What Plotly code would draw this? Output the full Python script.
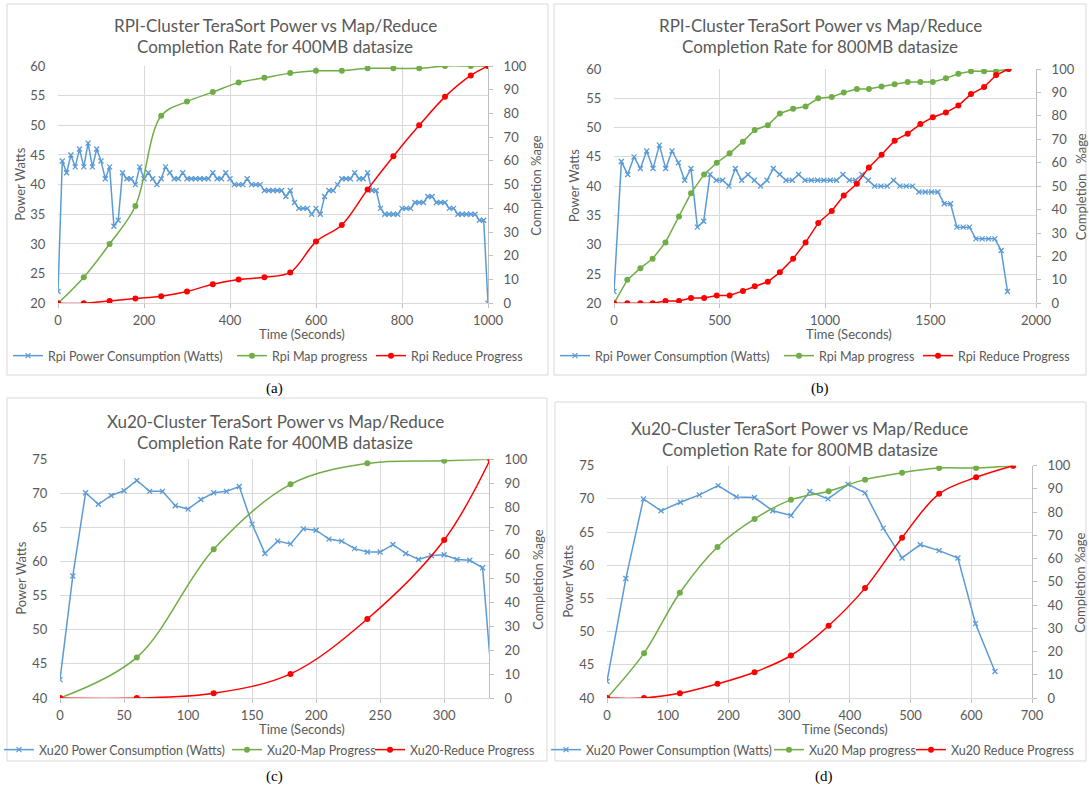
import plotly.graph_objects as go

# ---------------- data ----------------
# (a) RPI 400MB
a_power_t = [0, 10, 20, 30, 40, 50, 60, 70, 80, 90,
             100, 110, 120, 130, 140, 150, 160, 170, 180, 190,
             200, 210, 220, 230, 240, 250, 260, 270, 280, 290,
             300, 310, 320, 330, 340, 350, 360, 370, 380, 390,
             400, 410, 420, 430, 440, 450, 460, 470, 480, 490,
             500, 510, 520, 530, 540, 550, 560, 570, 580, 590,
             600, 610, 620, 630, 640, 650, 660, 670, 680, 690,
             700, 710, 720, 730, 740, 750, 760, 770, 780, 790,
             800, 810, 820, 830, 840, 850, 860, 870, 880, 890,
             900, 910, 920, 930, 940, 950, 960, 970, 980, 990,
             1000]
a_power = [22, 44, 42, 45, 43, 46, 43, 47, 43, 46,
           44, 41, 43, 33, 34, 42, 41, 41, 40, 43,
           41, 42, 41, 40, 41, 43, 42, 41, 41, 42,
           41, 41, 41, 41, 41, 41, 42, 41, 41, 42,
           41, 40, 40, 40, 41, 40, 40, 40, 39, 39,
           39, 39, 39, 38, 39, 37, 36, 36, 36, 35,
           36, 35, 38, 39, 39, 40, 41, 41, 41, 42,
           41, 41, 42, 39, 39, 36, 35, 35, 35, 35,
           36, 36, 36, 37, 37, 37, 38, 38, 37, 37,
           37, 36, 36, 35, 35, 35, 35, 35, 34, 34,
           20]
a_prog_t = [0, 60, 120, 180, 240, 300, 360, 420, 480, 540, 600, 660, 720, 780, 840, 900, 960, 1000]
a_map = [0, 11, 25, 41, 79, 85, 89, 93, 95, 97, 98, 98, 99, 99, 99, 100, 100, 100]
a_reduce = [0, 0, 1, 2, 3, 5, 8, 10, 11, 13, 26, 33, 48, 62, 75, 87, 96, 100]

# (b) RPI 800MB
b_power_t = [0, 35, 65, 95, 125, 155, 185, 215, 245, 275,
             305, 335, 365, 395, 425, 455, 485, 515, 545, 575,
             605, 635, 665, 695, 725, 755, 785, 815, 845, 875,
             905, 935, 965, 995, 1025, 1055, 1085, 1115, 1145, 1175,
             1205, 1235, 1265, 1295, 1325, 1355, 1385, 1415, 1445, 1475,
             1505, 1535, 1565, 1595, 1625, 1655, 1685, 1715, 1745, 1775,
             1805, 1835, 1865]
b_power = [22, 44.2, 42, 45, 43, 46, 43, 47, 43, 46,
           44, 41, 43, 33, 34, 42, 41, 41, 40, 43,
           41, 42, 41, 40, 41, 43, 42, 41, 41, 42,
           41, 41, 41, 41, 41, 41, 42, 41, 41, 42,
           41, 40, 40, 40, 41, 40, 40, 40, 39, 39,
           39, 39, 37, 37, 33, 33, 33, 31, 31, 31,
           31, 29, 22]
b_prog_t = [0, 63, 125, 183, 244, 308, 365, 427, 487, 548,
            611, 667, 729, 786, 849, 908, 968, 1032, 1089, 1151,
            1208, 1268, 1330, 1392, 1452, 1511, 1573, 1632, 1692, 1754,
            1811, 1870]
b_map = [0, 10, 15, 19, 26, 37, 47, 55, 60, 64,
         69, 74, 76, 81, 83, 84, 87.5, 88, 90, 91.5,
         91.5, 92.5, 93.5, 94.5, 94.5, 94.5, 96, 98, 99, 99,
         99, 100]
b_reduce = [0, 0, 0, 0, 1, 1, 2.3, 2.3, 3.3, 3.3,
            5.3, 7.3, 9.2, 13.2, 19, 26, 34.3, 39.4, 46, 51,
            58, 63.4, 69.4, 72.4, 76.5, 79.4, 81.4, 84.4, 89.3, 92.3,
            97.4, 100]

# (c) Xu20 400MB
c_power_t = [0, 10, 20, 30, 40, 50, 60, 70, 80, 90,
             100, 110, 120, 130, 140, 150, 160, 170, 180, 190,
             200, 210, 220, 230, 240, 250, 260, 270, 280, 290,
             300, 310, 320, 330, 340]
c_power = [42.7, 57.9, 70.1, 68.4, 69.7, 70.4, 71.9, 70.3, 70.3, 68.2,
           67.7, 69.1, 70.1, 70.3, 71.0, 65.5, 61.2, 63.0, 62.6, 64.8,
           64.6, 63.3, 63.0, 61.9, 61.4, 61.4, 62.5, 61.2, 60.3, 60.9,
           61.0, 60.3, 60.2, 59.1, 36]
c_prog_t = [0, 60, 120, 180, 240, 300, 336]
c_map = [0, 17, 62.3, 89.5, 98.3, 99.4, 100]
c_reduce = [0, 0, 2, 10.1, 33.1, 66.2, 100]

# (d) Xu20 800MB
d_power_t = [0, 31, 60, 89, 121, 152, 183, 213, 243, 273,
             303, 334, 364, 397, 425, 455, 486, 516, 547, 578,
             607, 639]
d_power = [42.5, 58, 70, 68.2, 69.5, 70.6, 72, 70.3, 70.2, 68.2,
           67.5, 71.1, 70, 72.2, 70.9, 65.6, 61.1, 63.1, 62.2, 61.1,
           51.2, 44]
d_prog_t = [0, 61, 120, 182, 243, 303, 365, 425, 486, 547, 608, 669]
d_map = [0, 19.3, 45.3, 65, 77.1, 85.3, 89, 94, 97, 99, 99, 100]
d_reduce = [0, 0, 2, 6.1, 11.1, 18.3, 31.1, 47.3, 69, 87.9, 95, 100]

titles = [
    ("RPI-Cluster TeraSort Power vs Map/Reduce", "Completion Rate for 400MB datasize"),
    ("RPI-Cluster TeraSort Power vs Map/Reduce", "Completion Rate for 800MB datasize"),
    ("Xu20-Cluster TeraSort Power vs Map/Reduce", "Completion Rate for 400MB datasize"),
    ("Xu20-Cluster TeraSort Power vs Map/Reduce", "Completion Rate for 800MB datasize"),
]
legend_names = [
    ("Rpi Power Consumption (Watts)", "Rpi Map progress", "Rpi Reduce Progress"),
    ("Rpi Power Consumption (Watts)", "Rpi Map progress", "Rpi Reduce Progress"),
    ("Xu20 Power Consumption (Watts)", "Xu20-Map Progress", "Xu20-Reduce Progress"),
    ("Xu20 Power Consumption (Watts)", "Xu20 Map progress", "Xu20 Reduce Progress"),
]
sub_labels = ["(a)", "(b)", "(c)", "(d)"]

# ---------------- styling / geometry ----------------
W, H = 1089, 791
def px(x):
    return x / W
def py(y):
    return 1 - y / H

BLUE = "#5B9BD5"
GREEN = "#70AD47"
RED = "#FF0000"
TXT = "#595959"
GRID = "#d9d9d9"
AXL = "#bfbfbf"
FONT = "Lato"
LEGSIZE = 12.5

panels = [
    dict(plot=(58, 66, 488, 303.3), xr=[0, 1000], xd=200, yr=[20, 60],
         data=(a_power_t, a_power, a_prog_t, a_map, a_prog_t, a_reduce), smooth=True,
         title_cx=275, title_y=(25, 46), ylab_x=20, y2lab_x=536, xlab=(302, 334),
         leg_x=(54, 278, 417), leg_y=356, box=(7, 4, 548, 375), lab=(274, 388), r2sp=False),
    dict(plot=(614, 69, 1036, 303.3), xr=[0, 2000], xd=500, yr=[20, 60],
         data=(b_power_t, b_power, b_prog_t, b_map, b_prog_t, b_reduce), smooth=False,
         title_cx=820, title_y=(25, 46), ylab_x=574, y2lab_x=1081, xlab=(849, 334),
         leg_x=(601, 825, 964), leg_y=356, box=(554, 4, 1086, 375), lab=(820, 388), r2sp=True),
    dict(plot=(60, 459.3, 489, 698), xr=[0, 335], xd=50, yr=[40, 75],
         data=(c_power_t, c_power, c_prog_t, c_map, c_prog_t, c_reduce), smooth=True,
         title_cx=275, title_y=(421, 442), ylab_x=21, y2lab_x=538, xlab=(302, 729),
         leg_x=(45, 273, 416), leg_y=750, box=(7, 398, 547, 761), lab=(274, 776), r2sp=False),
    dict(plot=(607, 465.7, 1032, 698), xr=[0, 700], xd=100, yr=[40, 75],
         data=(d_power_t, d_power, d_prog_t, d_map, d_prog_t, d_reduce), smooth=True,
         title_cx=800, title_y=(428, 449), ylab_x=568, y2lab_x=1080, xlab=(845, 729),
         leg_x=(592, 815, 957), leg_y=750, box=(555, 402, 1086, 761), lab=(824, 776), r2sp=False),
]

fig = go.Figure()
layout = dict(
    template="none",
    width=W, height=H, margin=dict(l=0, r=0, t=0, b=0, autoexpand=False),
    paper_bgcolor="white", plot_bgcolor="white",
    font=dict(family=FONT, size=13, color=TXT),
    showlegend=True,
)
annotations = []
shapes = []
leg_idx = 0

for i, p in enumerate(panels):
    L, T, R, B = p["plot"]
    xname = "x" if i == 0 else f"x{i + 1}"
    yl = 2 * i + 1
    yr_ = 2 * i + 2
    ylname = "y" if yl == 1 else f"y{yl}"
    yrname = f"y{yr_}"
    xkey = "xaxis" if i == 0 else f"xaxis{i + 1}"
    ylkey = "yaxis" if yl == 1 else f"yaxis{yl}"
    yrkey = f"yaxis{yr_}"

    layout[xkey] = dict(domain=[px(L), px(R)], anchor=ylname, range=p["xr"], dtick=p["xd"],
                        tick0=0, showgrid=True, gridcolor=GRID, gridwidth=1, zeroline=False,
                        showline=True, linecolor=GRID, linewidth=1, ticks="outside", ticklen=4,
                        tickcolor=AXL, tickwidth=1, ticklabelstandoff=1, automargin=False,
                        tickfont=dict(family=FONT, size=13, color=TXT))
    layout[ylkey] = dict(domain=[py(B), py(T)], anchor=xname, range=p["yr"], dtick=5,
                         showgrid=True, gridcolor=GRID, gridwidth=1, zeroline=False,
                         showline=False, ticks="outside", ticklen=6, automargin=False,
                         tickcolor="rgba(0,0,0,0)", ticklabelstandoff=3,
                         tickfont=dict(family=FONT, size=13, color=TXT))
    layout[yrkey] = dict(overlaying=ylname, side="right", anchor=xname, range=[0, 100],
                         dtick=10, showgrid=False, zeroline=False, showline=True,
                         linecolor=AXL, linewidth=1, ticks="outside", ticklen=4,
                         tickcolor=AXL, tickwidth=1, automargin=False,
                         ticklabelstandoff=8,
                         tickfont=dict(family=FONT, size=13, color=TXT))

    pt, pv, mt, mv, rt, rv = p["data"]
    shape = "spline" if p["smooth"] else "linear"
    specs = [
        (pt, pv, ylname, BLUE, dict(symbol="x-thin", size=5, line=dict(width=1.3, color=BLUE)), "linear"),
        (mt, mv, yrname, GREEN, dict(symbol="circle", size=6, color=GREEN, line=dict(width=0)), shape),
        (rt, rv, yrname, RED, dict(symbol="circle", size=6, color=RED, line=dict(width=0)), shape),
    ]
    for k, (xs, ys, yax, col, mk, shp) in enumerate(specs):
        leg_idx += 1
        lname = "legend" if leg_idx == 1 else f"legend{leg_idx}"
        fig.add_trace(go.Scatter(
            x=xs, y=ys, xaxis=xname, yaxis=yax, mode="lines+markers",
            line=dict(color=col, width=1.5, shape=shp), marker=mk,
            name=legend_names[i][k], legend=lname, cliponaxis=True,
        ))
        layout[lname] = dict(x=px(p["leg_x"][k] - 46), y=py(p["leg_y"]), xanchor="left",
                             yanchor="middle", orientation="h", bgcolor="rgba(0,0,0,0)",
                             borderwidth=0, itemwidth=30, tracegroupgap=0,
                             font=dict(family=FONT, size=LEGSIZE, color=TXT))

    # titles
    for line, yy in zip(titles[i], p["title_y"]):
        annotations.append(dict(text=line, x=px(p["title_cx"]), y=py(yy), xref="paper",
                                yref="paper", showarrow=False, xanchor="center",
                                yanchor="middle", font=dict(family=FONT, size=17, color=TXT)))
    # axis titles
    annotations.append(dict(text="Power Watts", x=px(p["ylab_x"]), y=py((T + B) / 2),
                            xref="paper", yref="paper", showarrow=False, textangle=-90,
                            xanchor="center", yanchor="middle",
                            font=dict(family=FONT, size=13, color=TXT)))
    r2 = "Completion\u00a0\u00a0\u00a0%age" if p["r2sp"] else "Completion %age"
    annotations.append(dict(text=r2, x=px(p["y2lab_x"]), y=py((T + B) / 2 + 1),
                            xref="paper", yref="paper", showarrow=False, textangle=-90,
                            xanchor="center", yanchor="middle",
                            font=dict(family=FONT, size=13, color=TXT)))
    annotations.append(dict(text="Time (Seconds)", x=px(p["xlab"][0]), y=py(p["xlab"][1]),
                            xref="paper", yref="paper", showarrow=False,
                            xanchor="center", yanchor="middle",
                            font=dict(family=FONT, size=13, color=TXT)))
    annotations.append(dict(text=sub_labels[i], x=px(p["lab"][0]), y=py(p["lab"][1]),
                            xref="paper", yref="paper", showarrow=False,
                            xanchor="center", yanchor="middle",
                            font=dict(family="Liberation Serif", size=15, color="black")))
    bx0, by0, bx1, by1 = p["box"]
    shapes.append(dict(type="rect", xref="paper", yref="paper", x0=px(bx0), y0=py(by1),
                       x1=px(bx1), y1=py(by0), line=dict(color=GRID, width=1),
                       fillcolor="rgba(0,0,0,0)", layer="below"))

layout["annotations"] = annotations
layout["shapes"] = shapes
fig.update_layout(**layout)
fig.write_html("out.html")
